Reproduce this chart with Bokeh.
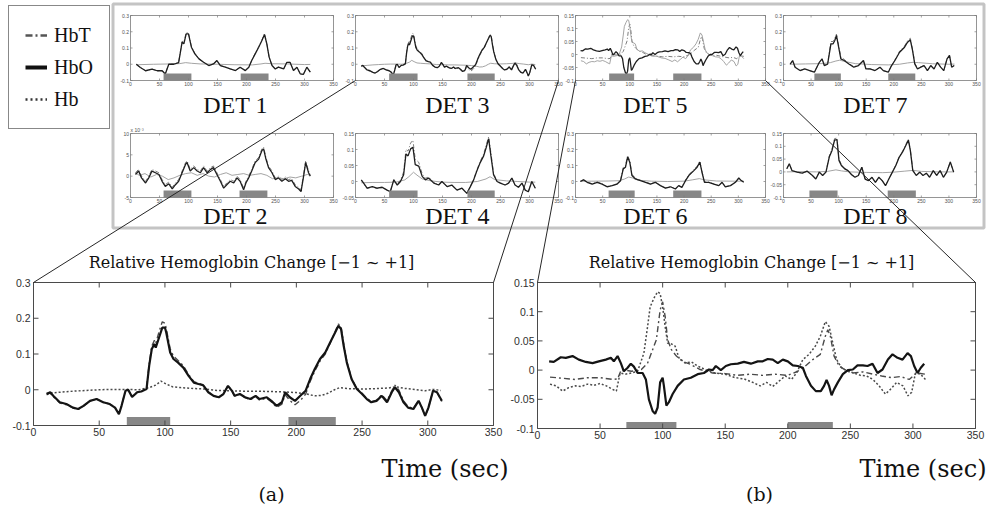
import numpy as np
from bokeh.plotting import figure
from bokeh.models import Range1d, Legend, LegendItem
from bokeh.core.properties import value
from bokeh.embed import file_html
from bokeh.resources import INLINE

# ======================= DATA =======================
X_TICKS = [0, 50, 100, 150, 200, 250, 300, 350]
X_TICK_LABELS = ["0", "50", "100", "150", "200", "250", "300", "350"]
Y_TICKS_03 = [-0.1, 0, 0.1, 0.2, 0.3]
Y_LABELS_03 = ["-0.1", "0", "0.1", "0.2", "0.3"]
Y_TICKS_015 = [-0.1, -0.05, 0, 0.05, 0.1, 0.15]
Y_LABELS_015 = ["-0.1", "-0.05", "0", "0.05", "0.1", "0.15"]
Y_TICKS_D4 = [-0.05, 0, 0.05, 0.1, 0.15]
Y_LABELS_D4 = ["-0.05", "0", "0.05", "0.1", "0.15"]
Y_TICKS_D2 = [-5, 0, 5, 10]
Y_LABELS_D2 = ["-5", "0", "5", "10"]

# ---- panel (a) / DET 3 ----
A_HBO_T = [10, 12.7, 15, 20, 25, 30, 34, 38, 43, 48, 53, 58, 62, 65, 67, 70, 72, 75, 79, 82,
           86, 88, 90, 92, 93, 96, 98, 100, 101, 104, 106.5, 110, 114, 118, 122, 125.5, 129, 133, 137, 141,
           144.5, 148, 151, 153, 157, 161, 165, 169, 172, 177.5, 181, 185, 189, 191.5, 195, 199, 203, 207, 210.5, 214,
           218, 222, 225.7, 229.5, 232, 234, 236, 238.4, 242, 246, 250, 253.6, 257, 261, 265, 269, 272.6, 275, 278, 281.5,
           285, 289, 293, 295.5, 298, 300.5, 304, 307, 310.7]
A_HBO = [-0.012, -0.007, -0.017, -0.035, -0.040, -0.050, -0.054, -0.045, -0.031, -0.026,
         -0.035, -0.040, -0.050, -0.068, -0.045, -0.003, 0.000, -0.020, -0.007, -0.005,
         0.002, 0.067, 0.114, 0.128, 0.118, 0.151, 0.174, 0.174, 0.160, 0.104,
         0.086, 0.076, 0.062, 0.039, 0.020, 0.016, 0.013, -0.007, -0.017, -0.021,
         -0.012, 0.011, -0.003, -0.017, -0.012, -0.021, -0.026, -0.017, -0.026, -0.021,
         -0.031, -0.045, -0.035, -0.007, -0.021, -0.031, -0.017, -0.003, 0.030, 0.058,
         0.086, 0.104, 0.132, 0.160, 0.179, 0.170, 0.123, 0.076, 0.030, 0.002,
         -0.012, -0.026, -0.035, -0.031, -0.017, -0.035, -0.007, 0.007, -0.007, -0.035,
         -0.050, -0.054, -0.031, -0.050, -0.073, -0.050, -0.003, -0.007, -0.031]
A_HBT = [-0.014, -0.009, -0.019, -0.037, -0.042, -0.051, -0.055, -0.046, -0.032, -0.026,
         -0.035, -0.040, -0.049, -0.067, -0.044, -0.002, 0.001, -0.019, -0.006, -0.004,
         0.004, 0.072, 0.122, 0.138, 0.130, 0.168, 0.190, 0.186, 0.172, 0.114,
         0.094, 0.082, 0.067, 0.043, 0.023, 0.018, 0.014, -0.006, -0.017, -0.021,
         -0.012, 0.011, -0.004, -0.018, -0.013, -0.022, -0.028, -0.019, -0.029, -0.024,
         -0.034, -0.049, -0.040, -0.014, -0.030, -0.042, -0.030, -0.013, 0.023, 0.052,
         0.080, 0.100, 0.130, 0.162, 0.184, 0.176, 0.128, 0.079, 0.032, 0.004,
         -0.010, -0.024, -0.033, -0.029, -0.014, -0.031, -0.003, 0.013, -0.001, -0.031,
         -0.047, -0.052, -0.030, -0.050, -0.074, -0.051, -0.002, -0.007, -0.033]
A_HB_T = [10, 20, 30, 40, 50, 60, 70, 80, 88, 93, 97, 101, 106, 112, 120, 130, 140, 150, 160, 170,
          180, 190, 200, 208, 214, 219, 224, 229, 233, 240, 250, 260, 270, 276, 282, 290, 298, 304, 310]
A_HB = [-0.010, -0.007, -0.004, -0.002, 0.000, 0.001, 0.001, 0.000, 0.006, 0.013,
        0.024, 0.016, 0.008, 0.006, 0.004, 0.002, -0.002, -0.003, -0.004, -0.004,
        -0.005, -0.006, -0.008, -0.012, -0.017, -0.016, -0.010, 0.000, 0.006, 0.003,
        0.002, 0.003, 0.005, 0.008, 0.004, 0.001, -0.003, 0.001, -0.002]

# ---- panel (b) / DET 5 ----
B_HBO_T = [9.3, 13, 18.6, 22.6, 28, 33, 38.6, 44, 49, 54.6, 58.6, 61, 64, 66.6, 69, 72, 74.6, 77, 80, 84,
           86.6, 89, 92, 94, 96, 98, 100, 101, 103, 105, 108, 112, 117, 122.5, 128, 133, 137, 140, 142.5, 146.5,
           150.5, 154.5, 160, 165, 170.5, 176, 180, 184, 188, 192, 196, 200, 204, 208, 212, 214.5, 218.5, 222.4, 226.4, 229,
           231, 233, 235, 237, 240, 244, 248, 252, 255.7, 260, 263.7, 267.7, 271.7, 275.7, 280, 283.7, 287.7, 291.7, 295.7, 298.4,
           301, 303.7, 306.3, 309]
B_HBO = [0.015, 0.014, 0.022, 0.021, 0.024, 0.018, 0.014, 0.012, 0.015, 0.018,
         0.021, 0.015, 0.024, 0.012, -0.002, 0.004, 0.011, 0.006, -0.005, -0.005,
         -0.016, -0.050, -0.070, -0.075, -0.064, -0.021, -0.013, -0.027, -0.061, -0.055,
         -0.041, -0.027, -0.016, -0.013, -0.007, -0.005, 0.001, 0.000, 0.007, 0.000,
         0.007, 0.010, 0.011, 0.014, 0.011, 0.015, 0.015, 0.019, 0.018, 0.012,
         0.018, 0.015, 0.008, 0.007, 0.004, -0.010, -0.027, -0.036, -0.036, -0.027,
         -0.017, -0.027, -0.043, -0.033, -0.021, -0.007, 0.000, 0.001, 0.008, 0.008,
         0.007, 0.011, -0.005, 0.001, 0.018, 0.027, 0.021, 0.018, 0.029, 0.024,
         0.007, -0.005, 0.004, 0.011]
B_HBT_T = [10, 20, 30, 40, 50, 60, 64, 67, 75, 83, 88, 92, 95, 98, 100, 102, 104, 107, 111, 116,
           122, 130, 140, 150, 160, 170, 180, 190, 200, 208, 214, 220, 226, 230, 232, 234, 237, 241, 246, 252,
           260, 268, 275, 283, 290, 297, 303, 310]
B_HBT = [-0.012, -0.014, -0.016, -0.013, -0.013, -0.016, -0.015, 0.001, -0.002, 0.001,
         0.012, 0.035, 0.052, 0.103, 0.117, 0.092, 0.052, 0.035, 0.024, 0.015,
         0.010, 0.001, -0.005, -0.006, -0.009, -0.007, -0.009, -0.007, -0.009, -0.002,
         0.007, 0.018, 0.027, 0.058, 0.069, 0.058, 0.024, 0.007, 0.000, -0.005,
         -0.003, -0.007, -0.010, -0.013, -0.011, -0.016, -0.005, -0.007]
B_HB_T = [10, 15, 20, 25, 30, 35, 40, 45, 50, 55, 60, 63, 66, 70, 75, 80, 85, 88, 90, 93,
          96, 98, 100, 102, 104, 106, 110, 113, 118, 123, 128, 135, 142, 150, 158, 165, 172, 178, 183, 188,
          193, 198, 203, 207, 212, 217, 222, 226, 230, 233, 236, 239, 243, 248, 253, 258, 263, 268, 273, 278,
          282, 287, 292, 296, 299, 302, 306, 310]
B_HB = [-0.024, -0.027, -0.036, -0.030, -0.027, -0.028, -0.024, -0.026, -0.023, -0.027,
        -0.033, -0.036, -0.005, -0.007, -0.005, -0.002, 0.029, 0.075, 0.108, 0.123,
        0.134, 0.131, 0.108, 0.075, 0.046, 0.046, 0.041, 0.021, 0.012, 0.014,
        0.007, 0.000, -0.005, -0.007, -0.013, -0.015, -0.021, -0.027, -0.021, -0.028,
        -0.019, -0.010, -0.016, -0.005, 0.018, 0.027, 0.041, 0.058, 0.083, 0.075,
        0.046, 0.018, 0.004, -0.002, -0.005, -0.009, -0.010, -0.016, -0.027, -0.041,
        -0.033, -0.021, -0.027, -0.044, -0.038, -0.005, -0.007, -0.016]

# ---- DET 1 ----
D1_T = [10, 17, 26, 37, 46, 54.5, 60, 66, 74.6, 83, 89, 92, 96, 100, 105, 111, 118, 126, 135, 143,
        149, 155, 163.5, 172, 181, 189, 198, 204, 209, 215, 221, 226.6, 231, 235, 239, 244, 249.6, 255, 264, 269.6,
        275, 281, 287, 292.6, 298, 304, 310]
D1_HBO = [0.000, -0.020, -0.040, -0.030, -0.040, -0.040, -0.060, 0.000, 0.000, 0.010,
          0.136, 0.126, 0.187, 0.187, 0.105, 0.064, 0.033, 0.012, -0.008, 0.002,
          0.023, -0.008, -0.018, -0.029, -0.039, -0.018, -0.039, -0.018, 0.023, 0.064,
          0.105, 0.146, 0.183, 0.126, 0.044, -0.008, -0.029, -0.018, -0.029, 0.012,
          0.012, -0.039, -0.018, -0.059, -0.063, -0.018, -0.049]
D1_HBT = [0.000, -0.020, -0.040, -0.030, -0.040, -0.040, -0.058, 0.002, 0.002, 0.014,
          0.142, 0.135, 0.195, 0.192, 0.110, 0.068, 0.035, 0.013, -0.008, 0.002,
          0.023, -0.008, -0.018, -0.029, -0.039, -0.018, -0.039, -0.018, 0.025, 0.067,
          0.108, 0.150, 0.188, 0.130, 0.046, -0.006, -0.028, -0.018, -0.029, 0.012,
          0.012, -0.039, -0.018, -0.059, -0.063, -0.018, -0.049]
D1_HB_T = [10, 40, 70, 85, 95, 105, 120, 150, 180, 210, 225, 232, 245, 270, 300, 310]
D1_HB = [-0.003, 0.000, 0.002, 0.004, 0.010, 0.006, 0.002, 0.000, -0.003, -0.004, 0.002, 0.006, 0.003, 0.002, -0.002, -0.001]

# ---- DET 2 (x 10^-3) ----
D2_T = [8.6, 14, 19, 26, 31.5, 37, 43, 49, 54.5, 60, 66, 72, 77.5, 83, 89, 95, 97.5, 103, 109, 115,
        120.5, 126, 132, 138, 143, 149, 155, 160.6, 166, 172, 178, 183.6, 189, 195, 199, 203.7, 209, 215, 221, 226.6,
        229.5, 233.5, 238, 244, 249.6, 255, 261, 267, 272.5, 278, 284, 290, 294, 298, 302, 307, 310]
D2_HBO = [0.4, 1.2, -0.4, -1.6, -0.4, 1.2, 0.8, 0.4, -1.2, -2.4,
          -1.8, -3.0, -2.0, -1.2, 0.8, 2.8, 3.2, 1.2, 2.0, 1.2,
          0.8, 2.0, 0.8, 1.6, 2.0, 0.4, -1.2, -2.8, -2.0, -1.2,
          -1.6, -0.4, -1.2, -3.2, -1.6, -0.4, 1.2, 3.2, 4.0, 6.0,
          6.4, 4.0, 2.0, 0.8, -0.8, -0.4, -1.2, -0.6, -1.2, -1.0,
          -2.4, -3.0, -3.6, -0.4, 3.2, 0.8, 0.0]
D2_HBT = [0.8, 1.6, 0.0, -1.2, 0.0, 1.6, 1.2, 0.8, -0.8, -2.0,
          -1.4, -2.6, -1.6, -0.8, 1.2, 3.2, 3.6, 1.6, 2.4, 1.6,
          1.2, 2.4, 1.2, 2.0, 2.4, 0.8, -0.8, -2.4, -1.6, -0.8,
          -1.2, 0.0, -0.8, -2.8, -1.2, 0.0, 1.6, 3.6, 4.4, 6.4,
          6.8, 4.4, 2.4, 1.2, -0.4, 0.0, -0.8, -0.2, -0.8, -0.6,
          -2.0, -2.6, -3.2, 0.0, 3.6, 1.2, 0.4]
D2_HB_T = [8, 15, 25, 35, 45, 55, 65, 75, 85, 95, 105, 115, 125, 135, 145, 155, 165, 175, 185, 195,
           205, 215, 225, 235, 245, 255, 265, 275, 285, 295, 305, 310]
D2_HB = [0.8, 0.2, 0.6, -0.2, 0.4, 0.0, -0.8, -0.4, 0.2, 0.6,
         0.8, 0.2, 0.6, 0.0, -0.2, 0.4, 0.8, 0.2, 0.4, 0.6,
         0.2, 0.4, 0.6, 0.2, -0.6, -0.4, -0.6, -0.2, -0.4, 0.0, 0.4, 0.2]

# ---- DET 4 ----
D4_T = [10, 14, 20, 29, 37, 46, 54.5, 60, 66, 72, 77.5, 83, 87, 90.6, 95, 99, 103, 109, 115, 120.5,
        126, 135, 143.4, 149, 158, 166, 175, 183.6, 192, 198, 203.7, 209, 215, 221, 225.5, 229.5, 233.5, 238, 244, 249.6,
        258, 264, 269.6, 275, 281, 287, 292.6, 298, 304, 310]
D4_HBO = [0.005, -0.005, -0.021, -0.016, -0.021, -0.018, -0.027, -0.032, 0.005, -0.011,
          0.000, 0.021, 0.086, 0.080, 0.102, 0.107, 0.053, 0.048, 0.016, 0.005,
          0.011, -0.005, -0.011, 0.000, -0.016, -0.011, -0.027, -0.021, -0.037, -0.016,
          0.005, 0.032, 0.059, 0.080, 0.107, 0.134, 0.080, 0.021, 0.000, -0.005,
          -0.011, -0.005, 0.011, -0.011, -0.018, -0.005, -0.027, -0.032, 0.000, -0.021]
D4_HBT = [0.004, -0.006, -0.022, -0.017, -0.022, -0.019, -0.027, -0.031, 0.006, -0.008,
          0.004, 0.030, 0.100, 0.095, 0.120, 0.129, 0.070, 0.060, 0.024, 0.010,
          0.014, -0.003, -0.011, 0.000, -0.016, -0.011, -0.027, -0.021, -0.037, -0.016,
          0.006, 0.035, 0.063, 0.086, 0.115, 0.139, 0.090, 0.026, 0.002, -0.004,
          -0.011, -0.005, 0.011, -0.011, -0.018, -0.005, -0.027, -0.032, 0.000, -0.021]
D4_HB_T = [10, 30, 50, 70, 85, 92, 100, 106, 115, 130, 150, 170, 190, 210, 225, 232, 240, 260, 280, 300, 310]
D4_HB = [-0.004, -0.003, -0.003, -0.002, 0.005, 0.015, 0.029, 0.020, 0.008, 0.002,
         -0.002, -0.003, -0.003, 0.000, 0.008, 0.015, 0.006, 0.002, 0.000, -0.002, -0.002]

# ---- DET 6 ----
D6_T = [9, 15, 21.5, 30.7, 40, 49, 58, 67.5, 76.7, 83, 88, 92, 96, 100, 104, 110.5, 119.7, 129, 138, 147,
        156.5, 165.7, 175, 184, 190, 196, 202.6, 208.7, 218, 224, 229, 233, 237.6, 245.5, 254.8, 264, 270, 276, 285.5, 294.6,
        300.8, 304, 310]
D6_HBO = [0.000, 0.010, -0.005, -0.016, -0.005, -0.016, -0.033, -0.026, -0.016, 0.005,
          0.079, 0.089, 0.153, 0.121, 0.037, 0.016, 0.005, -0.005, -0.016, -0.005,
          -0.026, -0.041, -0.033, -0.047, -0.026, -0.037, 0.005, 0.037, 0.068, 0.089,
          0.121, 0.058, -0.005, -0.005, -0.016, -0.026, -0.005, -0.033, -0.026, -0.005,
          0.022, 0.010, -0.005]
D6_HBT = [0.002, 0.012, -0.003, -0.014, -0.003, -0.014, -0.031, -0.024, -0.014, 0.010,
          0.088, 0.100, 0.163, 0.130, 0.045, 0.020, 0.008, -0.003, -0.014, -0.004,
          -0.025, -0.040, -0.032, -0.046, -0.025, -0.035, 0.008, 0.042, 0.075, 0.096,
          0.127, 0.064, -0.002, -0.004, -0.015, -0.025, -0.004, -0.032, -0.025, -0.004,
          0.023, 0.011, -0.004]
D6_HB_T = [9, 30, 60, 80, 90, 98, 105, 115, 140, 170, 200, 215, 228, 238, 260, 290, 310]
D6_HB = [0.002, 0.002, 0.003, 0.005, 0.015, 0.028, 0.022, 0.008, 0.002, 0.000, 0.002, 0.010, 0.018, 0.010, 0.003, 0.002, 0.002]

# ---- DET 7 ----
D7_T = [12, 16.6, 21, 30, 38.5, 47.4, 56, 65, 70, 74, 80, 86, 90, 93, 96, 100, 104, 110, 118.6, 127.5,
        136, 145, 149.5, 157, 166, 175, 181, 190, 196, 202, 210.5, 219.5, 225, 230, 234, 238, 243, 249, 255, 261,
        267, 273, 279, 285, 290.6, 296.6, 301, 305, 309.6]
D7_HBO = [0.000, 0.023, -0.018, -0.039, -0.029, -0.039, -0.049, 0.012, 0.033, -0.008,
          0.000, 0.126, 0.126, 0.146, 0.177, 0.105, 0.033, 0.023, 0.002, -0.018,
          -0.008, 0.023, -0.029, -0.029, -0.039, -0.018, -0.039, -0.049, -0.008, 0.023,
          0.074, 0.105, 0.136, 0.150, 0.085, 0.002, -0.029, -0.018, -0.008, -0.039,
          -0.008, -0.029, 0.012, -0.018, -0.039, 0.033, 0.054, -0.018, -0.008]
D7_HBT = [0.000, 0.023, -0.018, -0.039, -0.029, -0.039, -0.049, 0.012, 0.033, -0.006,
          0.004, 0.140, 0.140, 0.160, 0.185, 0.118, 0.045, 0.030, 0.005, -0.016,
          -0.006, 0.023, -0.029, -0.029, -0.039, -0.018, -0.039, -0.049, -0.006, 0.026,
          0.080, 0.112, 0.145, 0.160, 0.092, 0.008, -0.026, -0.016, -0.008, -0.039,
          -0.008, -0.029, 0.012, -0.018, -0.039, 0.033, 0.054, -0.018, -0.008]
D7_HB_T = [12, 40, 70, 85, 95, 102, 110, 130, 160, 190, 210, 225, 235, 245, 270, 300, 310]
D7_HB = [0.000, 0.002, 0.004, 0.010, 0.020, 0.025, 0.018, 0.004, -0.002, -0.004, 0.000, 0.008, 0.012, 0.010, 0.003, 0.000, 0.001]

# ---- DET 8 ----
D8_T = [6, 10.5, 15.4, 24.7, 34, 43, 52.5, 58.6, 65, 71, 77, 83, 88, 92.6, 97, 100.6, 105, 111, 117, 123.5,
        129.6, 135.8, 142, 148, 154, 160.5, 166.7, 172.8, 179, 185, 191, 197.5, 203.7, 210, 216, 222, 226.5, 230, 234.5, 240.7,
        247, 253, 259, 265, 271.6, 277.8, 284, 290, 296, 302.5, 308.6]
D8_HBO = [0.012, 0.032, 0.005, -0.001, -0.005, 0.003, -0.014, -0.028, -0.001, -0.014,
          -0.001, 0.058, 0.084, 0.124, 0.126, 0.045, 0.025, 0.012, 0.005, -0.011,
          -0.021, -0.014, 0.018, -0.028, -0.034, -0.021, -0.041, -0.021, -0.034, -0.054,
          -0.028, -0.001, 0.025, 0.058, 0.078, 0.104, 0.124, 0.084, 0.005, -0.014,
          -0.001, -0.014, -0.005, -0.021, 0.005, -0.014, 0.005, -0.021, -0.001, 0.039, -0.001]
D8_HBT = [0.012, 0.032, 0.005, -0.001, -0.005, 0.003, -0.014, -0.027, 0.000, -0.013,
          0.001, 0.062, 0.090, 0.130, 0.132, 0.050, 0.028, 0.014, 0.006, -0.010,
          -0.020, -0.013, 0.019, -0.027, -0.034, -0.021, -0.041, -0.021, -0.034, -0.054,
          -0.028, 0.000, 0.027, 0.061, 0.081, 0.108, 0.127, 0.088, 0.008, -0.013,
          -0.001, -0.014, -0.005, -0.021, 0.005, -0.014, 0.005, -0.021, -0.001, 0.039, -0.001]
D8_HB_T = [6, 30, 60, 80, 95, 105, 120, 150, 180, 200, 220, 235, 250, 280, 309]
D8_HB = [0.000, 0.001, 0.000, 0.002, 0.008, 0.004, 0.000, -0.002, -0.003, -0.001, 0.003, 0.006, 0.002, 0.000, 0.000]

# stimulation blocks (start, end) in seconds
STIM_A = [(71, 104), (194, 230)]
STIM_B = [(71, 111), (200, 236)]
STIM_D1 = [(57, 105), (190, 238)]
STIM_D2 = [(57, 105), (188, 236)]
STIM_D3 = [(58, 107), (193, 240)]
STIM_D4 = [(58, 107), (193, 240)]
STIM_D5 = [(62, 108), (180, 232)]
STIM_D6 = [(61, 109), (180, 232)]
STIM_D7 = [(56, 104), (190, 239)]
STIM_D8 = [(47, 98), (189, 240)]

LEGEND_LABELS = ["HbT", "HbO", "Hb"]
DET_NAMES = ["DET 1", "DET 3", "DET 5", "DET 7", "DET 2", "DET 4", "DET 6", "DET 8"]
BIG_TITLE = "Relative Hemoglobin Change [\u22121 ~ +1]"
X_NAME = "Time (sec)"
SUB_LABELS = ["(a)", "(b)"]

# ======================= LAYOUT / STYLE =======================
W, H = 989, 505
ROW_Y = [(15, 80), (133, 197)]
COL_X = [(130, 333), (355, 558), (575, 765), (783, 976)]
TITLE_X = [235, 457, 655, 875]
TITLE_MID = [104, 215]
A_BOX = (33, 282, 493, 425)
B_BOX = (537, 282, 975, 428)
GRAY_BOX = (112.5, 3.5, 983.5, 227.5)

SERIF = "Liberation Serif"
SERIF2 = "DejaVu Serif"
SANS = "Liberation Sans"

BIG_STYLE = {
    "HbT": dict(line_color="#4a4a4a", line_width=1.4, line_dash="6 3 2 3"),
    "Hb": dict(line_color="#4a4a4a", line_width=1.5, line_dash="2 2"),
    "HbO": dict(line_color="#141414", line_width=2.2),
}
SMALL_STYLE = {
    "HbT": dict(line_color="#6e6e6e", line_width=0.9, line_dash="4 2 1 2"),
    "Hb": dict(line_color="#9a9a9a", line_width=0.9),
    "HbO": dict(line_color="#1e1e1e", line_width=1.3),
}

p = figure(width=W, height=H, x_range=Range1d(0, W), y_range=Range1d(H, 0),
           output_backend="svg", toolbar_location=None,
           x_axis_location=None, y_axis_location=None, min_border=0, title=None,
           background_fill_color="white", border_fill_color="white", outline_line_color=None)
p.grid.visible = False

xr, yr = {}, {}


def add_ranges(name, box, xlim, ylim):
    L, T, R, B = box
    kx = (R - L) / (xlim[1] - xlim[0])
    ky = (B - T) / (ylim[1] - ylim[0])
    x_start = xlim[0] - L / kx
    xr[name] = Range1d(x_start, x_start + W / kx)
    yr[name] = Range1d(ylim[1] - (H - T) / ky, ylim[1] + T / ky)
    return kx, ky


def draw_panel(name, box, xlim, ylim, yticks, ylabels, series, stim, stim_top, big):
    kx, ky = add_ranges(name, box, xlim, ylim)
    kw = dict(x_range_name=name, y_range_name=name)
    p.quad(left=[xlim[0]], right=[xlim[1]], bottom=[ylim[0]], top=[ylim[1]],
           fill_color="white", line_color=None, **kw)
    style = BIG_STYLE if big else SMALL_STYLE
    for key in ["HbT", "Hb", "HbO"]:
        t, v = series[key]
        n = min(len(t), len(v))
        p.line(x=list(t[:n]), y=list(v[:n]), **style[key], **kw)
    p.quad(left=[s[0] for s in stim], right=[s[1] for s in stim],
           bottom=[ylim[0]] * len(stim), top=[stim_top] * len(stim),
           fill_color="#878787", line_color=None, **kw)
    fc = "#4a4a4a" if big else "#7a7a7a"
    p.quad(left=[xlim[0]], right=[xlim[1]], bottom=[ylim[0]], top=[ylim[1]],
           fill_color=None, line_color=fc, line_width=1.0 if big else 0.8, **kw)
    tl = 5.0 if big else 2.0
    dx, dy = tl / kx, tl / ky
    nx, ny = len(X_TICKS), len(yticks)
    seg = dict(line_color=fc, line_width=1.0 if big else 0.7, **kw)
    p.segment(x0=X_TICKS, y0=[ylim[0]] * nx, x1=X_TICKS, y1=[ylim[0] + dy] * nx, **seg)
    p.segment(x0=X_TICKS, y0=[ylim[1]] * nx, x1=X_TICKS, y1=[ylim[1] - dy] * nx, **seg)
    p.segment(x0=[xlim[0]] * ny, y0=yticks, x1=[xlim[0] + dx] * ny, y1=yticks, **seg)
    p.segment(x0=[xlim[1]] * ny, y0=yticks, x1=[xlim[1] - dx] * ny, y1=yticks, **seg)
    fs = "10.5px" if big else "5px"
    col = "#303030" if big else "#505050"
    p.text(x=X_TICKS, y=[ylim[0]] * nx, text=X_TICK_LABELS, text_align="center",
           text_baseline="top", y_offset=2 if big else 1.5, text_font=value(SANS),
           text_font_size=fs, text_color=col, **kw)
    p.text(x=[xlim[0]] * ny, y=yticks, text=ylabels, text_align="right",
           text_baseline="middle", x_offset=-3 if big else -1.5, text_font=value(SANS),
           text_font_size=fs, text_color=col, **kw)
    return kw


XLIM = (0, 350)
A_SER = {"HbO": (A_HBO_T, A_HBO), "HbT": (A_HBO_T, A_HBT), "Hb": (A_HB_T, A_HB)}
B_SER = {"HbO": (B_HBO_T, B_HBO), "HbT": (B_HBT_T, B_HBT), "Hb": (B_HB_T, B_HB)}

small = [
    ("d1", (-0.1, 0.3), Y_TICKS_03, Y_LABELS_03,
     {"HbO": (D1_T, D1_HBO), "HbT": (D1_T, D1_HBT), "Hb": (D1_HB_T, D1_HB)}, STIM_D1),
    ("d3", (-0.1, 0.3), Y_TICKS_03, Y_LABELS_03, A_SER, STIM_D3),
    ("d5", (-0.1, 0.15), Y_TICKS_015, Y_LABELS_015, B_SER, STIM_D5),
    ("d7", (-0.1, 0.3), Y_TICKS_03, Y_LABELS_03,
     {"HbO": (D7_T, D7_HBO), "HbT": (D7_T, D7_HBT), "Hb": (D7_HB_T, D7_HB)}, STIM_D7),
    ("d2", (-5, 10), Y_TICKS_D2, Y_LABELS_D2,
     {"HbO": (D2_T, D2_HBO), "HbT": (D2_T, D2_HBT), "Hb": (D2_HB_T, D2_HB)}, STIM_D2),
    ("d4", (-0.05, 0.15), Y_TICKS_D4, Y_LABELS_D4,
     {"HbO": (D4_T, D4_HBO), "HbT": (D4_T, D4_HBT), "Hb": (D4_HB_T, D4_HB)}, STIM_D4),
    ("d6", (-0.1, 0.3), Y_TICKS_03, Y_LABELS_03,
     {"HbO": (D6_T, D6_HBO), "HbT": (D6_T, D6_HBT), "Hb": (D6_HB_T, D6_HB)}, STIM_D6),
    ("d8", (-0.1, 0.15), Y_TICKS_015, Y_LABELS_015,
     {"HbO": (D8_T, D8_HBO), "HbT": (D8_T, D8_HBT), "Hb": (D8_HB_T, D8_HB)}, STIM_D8),
]

boxes = {}
for i, (name, ylim, yt, yl, ser, stim) in enumerate(small):
    r, c = divmod(i, 4)
    box = (COL_X[c][0], ROW_Y[r][0], COL_X[c][1], ROW_Y[r][1])
    boxes[name] = box
    top = ylim[0] + 0.108 * (ylim[1] - ylim[0])
    kw = draw_panel(name, box, XLIM, ylim, yt, yl, ser, stim, top, False)
    if name == "d2":
        p.text(x=[0], y=[ylim[1]], text=["x 10\u207b\u00b3"], text_align="left",
               text_baseline="bottom", y_offset=-1, text_font=value(SANS),
               text_font_size="5px", text_color="#505050", **kw)

draw_panel("a", A_BOX, XLIM, (-0.1, 0.3), Y_TICKS_03, Y_LABELS_03, A_SER, STIM_A, -0.076, True)
draw_panel("b", B_BOX, XLIM, (-0.1, 0.15), Y_TICKS_015, Y_LABELS_015, B_SER, STIM_B, -0.089, True)

p.extra_x_ranges = xr
p.extra_y_ranges = yr

# gray group box
gl, gt, gr, gb = GRAY_BOX
p.quad(left=[gl], right=[gr], top=[gt], bottom=[gb], fill_color=None,
       line_color="#c4c4c4", line_width=3)

# zoom connector lines
d3, d5 = boxes["d3"], boxes["d5"]
p.segment(x0=[d3[0], d3[2], d5[0], d5[2]], y0=[d3[3], d3[3], d5[3], d5[3]],
          x1=[A_BOX[0], A_BOX[2], B_BOX[0], B_BOX[2]], y1=[A_BOX[1], A_BOX[1], B_BOX[1], B_BOX[1]],
          line_color="#262626", line_width=1)

# detector names
tx = [TITLE_X[i % 4] for i in range(8)]
ty = [TITLE_MID[i // 4] for i in range(8)]
p.text(x=tx, y=ty, text=DET_NAMES, text_align="center", text_baseline="middle",
       text_font=value(SERIF), text_font_size="24px", text_color="#111111")

# big panel titles, axis names, sub labels
p.text(x=[(A_BOX[0] + A_BOX[2]) / 2 - 12, (B_BOX[0] + B_BOX[2]) / 2 - 5], y=[262, 262],
       text=[BIG_TITLE, BIG_TITLE], text_align="center", text_baseline="middle",
       text_font=value(SERIF2), text_font_size="16px", text_color="#111111")
p.text(x=[A_BOX[2] + 15, W - 3], y=[468, 468], text=[X_NAME, X_NAME], text_align="right",
       text_baseline="middle", text_font=value(SERIF2), text_font_size="24px", text_color="#111111")
p.text(x=[271, 759], y=[493, 493], text=SUB_LABELS, text_align="center",
       text_baseline="middle", text_font=value(SERIF2), text_font_size="19px", text_color="#111111")

# legend
nan2 = np.array([np.nan, np.nan])
r_t = p.line(x=nan2, y=nan2, line_color="#555555", line_width=2.6, line_dash="7 3 2 3")
r_o = p.line(x=nan2, y=nan2, line_color="#111111", line_width=4)
r_h = p.line(x=nan2, y=nan2, line_color="#333333", line_width=2.6, line_dash="2 3")
LEG_H = 2 * 16 + 3 * 26 + 2 * 6
legend = Legend(items=[LegendItem(label=LEGEND_LABELS[0], renderers=[r_t]),
                       LegendItem(label=LEGEND_LABELS[1], renderers=[r_o]),
                       LegendItem(label=LEGEND_LABELS[2], renderers=[r_h])],
                location=(8, H - 7 - LEG_H), margin=0, padding=16, spacing=6,
                glyph_width=22, glyph_height=26, label_height=26, label_standoff=7,
                label_text_font=SERIF, label_text_font_size="20px", label_text_color="#111111",
                border_line_color="#111111", border_line_width=1.5,
                background_fill_color="white", background_fill_alpha=1.0)
p.add_layout(legend)

open("out.html", "w").write(file_html(p, INLINE))
